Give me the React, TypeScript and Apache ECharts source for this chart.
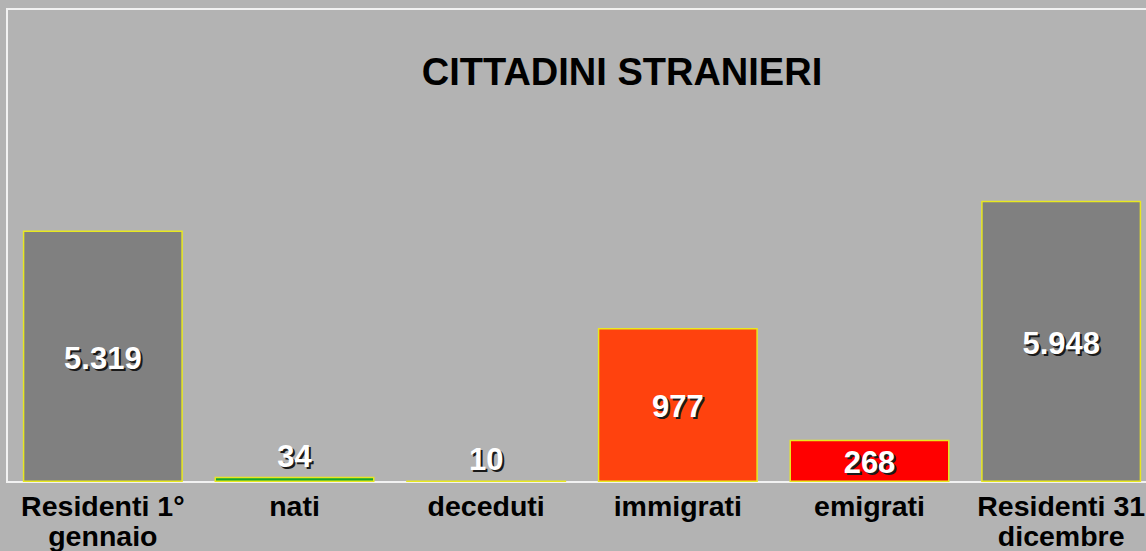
import React, { useEffect, useRef } from "react";
import * as echarts from "echarts";

const categories = [
  "Residenti 1°\ngennaio",
  "nati",
  "deceduti",
  "immigrati",
  "emigrati",
  "Residenti 31\ndicembre",
];
const residentValues = [5319, null, null, null, null, 5948];
const flowValues = [null, 34, 10, 977, 268, null];
const barColors = ["#808080", "#12a530", "#a08010", "#ff420e", "#ff0000", "#808080"];
const outsideLabel = [false, true, true, false, false, false];
const titleText = "CITTADINI STRANIERI";

const fmt = (v: number) => String(v).replace(/\B(?=(\d{3})+(?!\d))/g, ".");

export default function App() {
  const ref = useRef<HTMLDivElement>(null);
  useEffect(() => {
    document.body.style.margin = "0";
    document.body.style.background = "#b3b3b3";
    document.body.style.overflow = "hidden";
    const chart = echarts.init(ref.current!, null, { renderer: "svg" });
    const labelBase = {
      show: true,
      fontSize: 31,
      fontWeight: "bold" as const,
      fontFamily: "Liberation Sans, Arial, sans-serif",
      formatter: (p: any) => fmt(p.value),
    };
    const mk = (vals: (number | null)[], visible: boolean, shadow: boolean) =>
      vals.map((v, i) =>
        v == null
          ? null
          : {
              value: v,
              itemStyle: visible
                ? { color: barColors[i] }
                : { color: "rgba(0,0,0,0)", borderWidth: 0 },
              label: {
                position: outsideLabel[i] ? "top" : "inside",
                distance: 7,
                color: shadow ? "#1a1a1a" : "#ffffff",
                offset: shadow ? [2, 4] : [0, 2],
              },
            }
      );
    const mkSeries = (vals: (number | null)[], axis: number, visible: boolean, shadow: boolean) => ({
      type: "bar",
      yAxisIndex: axis,
      data: mk(vals, visible, shadow),
      barWidth: 160,
      barGap: "-100%",
      silent: true,
      itemStyle: { borderColor: "#e8e820", borderWidth: visible ? 1.5 : 0 },
      label: labelBase,
    });
    chart.setOption({
      animation: false,
      backgroundColor: "#b3b3b3",
      graphic: [
        {
          type: "text",
          x: 622,
          y: 53,
          style: {
            text: titleText,
            align: "center",
            verticalAlign: "top",
            textAlign: "center",
            textVerticalAlign: "top",
            fill: "#000000",
            font: "bold 38px 'Liberation Sans', Arial, sans-serif",
          },
        },
      ],
      grid: {
        left: 7,
        top: 9,
        bottom: 67,
        right: 8,
        show: true,
        borderColor: "#f2f2f2",
        borderWidth: 2,
        backgroundColor: "transparent",
      },
      xAxis: {
        type: "category",
        data: categories,
        axisTick: { show: false },
        axisLine: { show: true, lineStyle: { color: "#f2f2f2", width: 2 } },
        axisLabel: {
          color: "#000000",
          fontSize: 28.5,
          lineHeight: 30,
          fontWeight: "bold",
          fontFamily: "Liberation Sans, Arial, sans-serif",
          margin: 9,
          interval: 0,
        },
      },
      yAxis: [
        { type: "value", min: 0, max: 10000, show: false, splitLine: { show: false } },
        { type: "value", min: 0, max: 3000, show: false, splitLine: { show: false } },
      ],
      series: [
        mkSeries(residentValues, 0, true, true),
        mkSeries(flowValues, 1, true, true),
        mkSeries(residentValues, 0, false, false),
        mkSeries(flowValues, 1, false, false),
      ],
    });
    return () => chart.dispose();
  }, []);
  return <div ref={ref} style={{ width: 1165, height: 551 }} />;
}
